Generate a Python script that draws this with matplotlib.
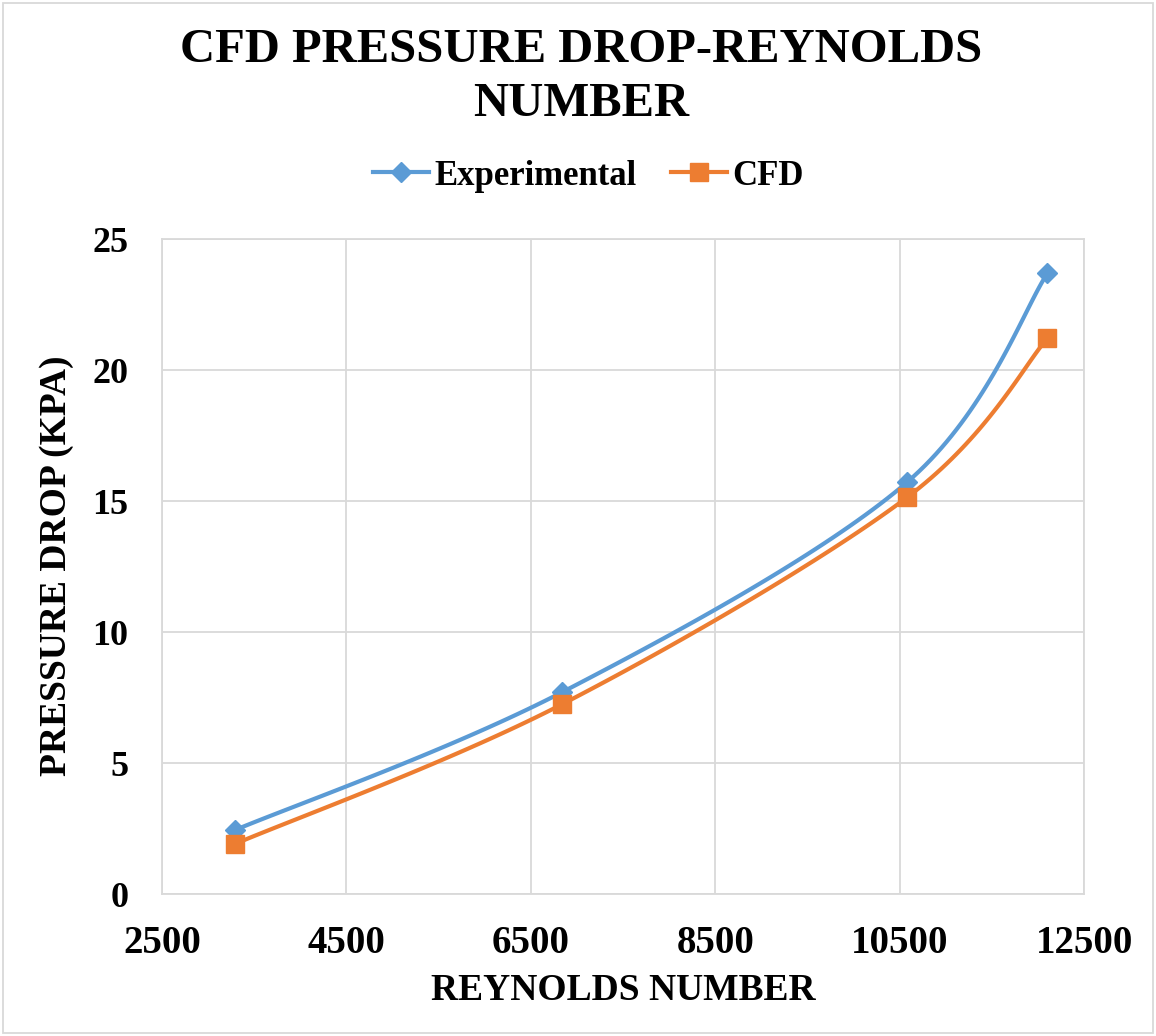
import numpy as np
import matplotlib
matplotlib.use("Agg")
from matplotlib import pyplot as plt

reynolds = [3290, 6840, 10580, 12100]
experimental = [2.44, 7.71, 15.73, 23.70]
cfd = [1.91, 7.25, 15.15, 21.22]

xticks = [2500, 4500, 6500, 8500, 10500, 12500]
yticks = [0, 5, 10, 15, 20, 25]

blue = "#5B9BD5"
orange = "#ED7D31"
grid = "#D9D9D9"

plt.rcParams["font.family"] = ["Liberation Serif", "DejaVu Serif"]
plt.rcParams["font.weight"] = "bold"


def smooth(x, y, n=40):
    # excel-like bezier smoothing through the points
    x = np.asarray(x, float)
    y = np.asarray(y, float)
    px = np.concatenate([[x[0]], x, [x[-1]]])
    py = np.concatenate([[y[0]], y, [y[-1]]])
    t = np.linspace(0, 1, n)[:, None]
    out = []
    for i in range(1, len(x)):
        p0 = np.array([px[i], py[i]])
        p3 = np.array([px[i + 1], py[i + 1]])
        c1 = p0 + (np.array([px[i + 1], py[i + 1]]) - np.array([px[i - 1], py[i - 1]])) / 6
        c2 = p3 - (np.array([px[i + 2], py[i + 2]]) - np.array([px[i], py[i]])) / 6
        seg = (1 - t) ** 3 * p0 + 3 * (1 - t) ** 2 * t * c1 + 3 * (1 - t) * t ** 2 * c2 + t ** 3 * p3
        out.append(seg if i == 1 else seg[1:])
    s = np.vstack(out)
    return s[:, 0], s[:, 1]


fig = plt.figure(figsize=(11.56, 10.36), dpi=100)
ax = fig.add_axes([0.140, 0.137, 0.798, 0.632])

sx, sy = smooth(reynolds, experimental)
ax.plot(sx, sy, color=blue, lw=3, solid_capstyle="round", zorder=3)
ax.plot(reynolds, experimental, "D", color=blue, markersize=10, zorder=4)
sx, sy = smooth(reynolds, cfd)
ax.plot(sx, sy, color=orange, lw=3, solid_capstyle="round", zorder=3)
ax.plot(reynolds, cfd, "s", color=orange, markersize=12.5, zorder=4)

# legend handles
ax.plot([], [], "-D", color=blue, lw=3, markersize=10, label="Experimental")
ax.plot([], [], "-s", color=orange, lw=3, markersize=12.5, label="CFD")
fig.legend(loc="center", bbox_to_anchor=(0.509, 0.830), ncol=2, frameon=False,
           prop={"size": 25, "weight": "bold"}, handlelength=1.6,
           handletextpad=0.15, columnspacing=1.0)

ax.set_xlim(2500, 12500)
ax.set_ylim(0, 25)
ax.set_xticks(xticks)
ax.set_yticks(yticks)
ax.grid(True, color=grid, lw=1.3)
ax.set_axisbelow(True)
for s in ax.spines.values():
    s.set_color(grid)
    s.set_linewidth(1.3)
ax.tick_params(axis="x", length=0, labelsize=28, pad=22)
ax.tick_params(axis="y", length=0, labelsize=26, pad=24)

fig.text(0.539, 1 - 990 / 1036, "REYNOLDS NUMBER", ha="center", va="center",
         fontsize=27, fontweight="bold")
fig.text(57 / 1156, 1 - 566 / 1036, "PRESSURE DROP (KPA)", ha="center", va="center",
         rotation=90, fontsize=27, fontweight="bold")

fig.text(0.503, 0.9257, "CFD PRESSURE DROP-REYNOLDS\nNUMBER", ha="center", va="center",
         fontsize=35, fontweight="bold", linespacing=1.3)

fig.patches.append(plt.Rectangle((0.003, 0.003), 0.994, 0.994, transform=fig.transFigure,
                                 fill=False, edgecolor=grid, lw=1.3))

fig.savefig("out.png", dpi=100)
